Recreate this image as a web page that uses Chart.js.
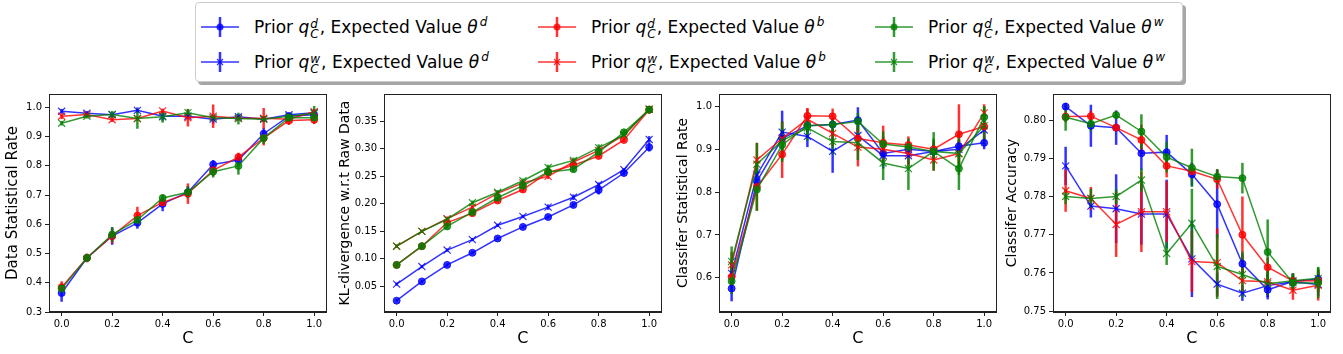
<!DOCTYPE html>
<html><head><meta charset="utf-8">
<script src="https://cdn.jsdelivr.net/npm/chart.js@4.4.0/dist/chart.umd.min.js"></script>
<style>
html,body{margin:0;padding:0;background:#fff;width:1343px;height:354px;overflow:hidden;font-family:'DejaVu Sans',sans-serif;}
canvas{position:absolute;top:85px;}
#legend{position:absolute;left:195px;top:2px;width:988px;height:80px;box-sizing:border-box;border:1px solid #ccc;border-radius:4px;background:#fff;box-shadow:3px 3px 0 rgba(0,0,0,0.35);}
.entry{position:absolute;height:30px;display:flex;align-items:center;font-size:17px;color:#000;white-space:nowrap;}
.entry svg{margin-right:15px;flex:none}
.mi{font-style:italic}
.ss{display:inline-flex;flex-direction:column;font-size:12px;line-height:10px;font-style:italic;vertical-align:middle;margin-left:1px;margin-right:1px;position:relative;top:1px}
.sp{font-size:12px;font-style:italic;position:relative;top:-7px;margin-left:2px}
</style></head>
<body>
<div id="legend"></div>
<canvas id="c1" width="329" height="269" style="left:4px"></canvas>
<canvas id="c2" width="331" height="269" style="left:337px"></canvas>
<canvas id="c3" width="328" height="269" style="left:675px"></canvas>
<canvas id="c4" width="333" height="269" style="left:1004px"></canvas>
<script>
// ---------- data ----------
const cValues = [0.0,0.1,0.2,0.3,0.4,0.5,0.6,0.7,0.8,0.9,1.0];
const xTickLabels = ['0.0','0.2','0.4','0.6','0.8','1.0'];

// series order: [prior q^d / theta^d, prior q^w / theta^d, q^d / theta^b, q^w / theta^b, q^d / theta^w, q^w / theta^w]
const seriesNames = [
  ['d','d'], ['w','d'], ['d','b'], ['w','b'], ['d','w'], ['w','w']
];
const seriesColors = ['0,0,255','0,0,255','255,0,0','255,0,0','0,128,0','0,128,0'];
const seriesMarkers = ['o','x','o','x','o','x'];

// Panel 1: Data Statistical Rate
const dsrTickLabels = ['0.3','0.4','0.5','0.6','0.7','0.8','0.9','1.0'];
const dsr_qd_td = [0.365,0.485,0.560,0.605,0.670,0.710,0.805,0.820,0.910,0.970,0.975];
const dsr_qd_td_err = [0.030,0.010,0.030,0.020,0.025,0.020,0.015,0.020,0.020,0.010,0.010];
const dsr_qw_td = [0.987,0.980,0.975,0.990,0.970,0.970,0.960,0.968,0.960,0.975,0.982];
const dsr_qw_td_err = [0.008,0.008,0.008,0.010,0.015,0.010,0.015,0.010,0.010,0.008,0.010];
const dsr_qd_tb = [0.385,0.485,0.560,0.630,0.675,0.705,0.785,0.830,0.895,0.955,0.958];
const dsr_qd_tb_err = [0.020,0.015,0.025,0.030,0.015,0.035,0.020,0.015,0.025,0.015,0.015];
const dsr_qw_tb = [0.970,0.976,0.958,0.962,0.988,0.965,0.970,0.963,0.963,0.960,0.985];
const dsr_qw_tb_err = [0.010,0.008,0.008,0.008,0.008,0.030,0.040,0.008,0.035,0.010,0.010];
const dsr_qd_tw = [0.380,0.485,0.565,0.615,0.690,0.710,0.780,0.800,0.895,0.965,0.965];
const dsr_qd_tw_err = [0.015,0.012,0.025,0.020,0.012,0.020,0.020,0.030,0.020,0.010,0.010];
const dsr_qw_tw = [0.946,0.970,0.976,0.962,0.968,0.982,0.965,0.962,0.960,0.970,0.980];
const dsr_qw_tw_err = [0.008,0.008,0.012,0.035,0.020,0.012,0.010,0.020,0.010,0.010,0.025];

// Panel 2: KL-divergence w.r.t Raw Data
const klTickLabels = ['0.05','0.10','0.15','0.20','0.25','0.30','0.35'];
const kl_qd_td = [0.024,0.059,0.089,0.111,0.137,0.158,0.176,0.198,0.225,0.256,0.303];
const kl_qd_td_err = [0.003,0.003,0.003,0.003,0.003,0.003,0.003,0.004,0.008,0.004,0.008];
const kl_qw_td = [0.054,0.086,0.116,0.135,0.161,0.177,0.194,0.212,0.235,0.262,0.317];
const kl_qw_td_err = [0.003,0.003,0.003,0.003,0.003,0.003,0.005,0.005,0.004,0.003,0.006];
const kl_qd_tb = [0.089,0.123,0.166,0.183,0.206,0.226,0.257,0.270,0.287,0.316,0.371];
const kl_qd_tb_err = [0.003,0.003,0.004,0.004,0.004,0.004,0.005,0.005,0.004,0.004,0.007];
const kl_qw_tb = [0.123,0.150,0.173,0.194,0.219,0.238,0.250,0.276,0.297,0.325,0.372];
const kl_qw_tb_err = [0.003,0.003,0.004,0.004,0.004,0.004,0.005,0.005,0.005,0.004,0.006];
const kl_qd_tw = [0.089,0.123,0.159,0.185,0.211,0.233,0.258,0.263,0.294,0.330,0.371];
const kl_qd_tw_err = [0.003,0.003,0.004,0.004,0.004,0.005,0.005,0.005,0.005,0.004,0.006];
const kl_qw_tw = [0.123,0.150,0.172,0.202,0.221,0.242,0.266,0.279,0.302,0.325,0.372];
const kl_qw_tw_err = [0.003,0.003,0.004,0.004,0.004,0.004,0.005,0.005,0.006,0.004,0.006];

// Panel 3: Classifer Statistical Rate
const csrTickLabels = ['0.6','0.7','0.8','0.9','1.0'];
const csr_qd_td = [0.575,0.825,0.925,0.955,0.958,0.968,0.890,0.900,0.895,0.907,0.915];
const csr_qd_td_err = [0.030,0.020,0.020,0.015,0.015,0.030,0.015,0.012,0.015,0.015,0.015];
const csr_qw_td = [0.610,0.840,0.940,0.930,0.895,0.932,0.885,0.885,0.895,0.900,0.945];
const csr_qw_td_err = [0.030,0.030,0.050,0.025,0.050,0.030,0.030,0.020,0.020,0.020,0.020];
const csr_qd_tb = [0.602,0.812,0.888,0.978,0.977,0.925,0.915,0.910,0.900,0.935,0.953];
const csr_qd_tb_err = [0.030,0.055,0.055,0.018,0.018,0.030,0.040,0.020,0.020,0.070,0.030];
const csr_qw_tb = [0.630,0.875,0.925,0.970,0.937,0.905,0.900,0.890,0.875,0.890,0.985];
const csr_qw_tb_err = [0.030,0.040,0.040,0.025,0.030,0.045,0.030,0.030,0.025,0.030,0.020];
const csr_qd_tw = [0.592,0.806,0.910,0.955,0.958,0.965,0.912,0.905,0.895,0.855,0.975];
const csr_qd_tw_err = [0.030,0.050,0.040,0.020,0.015,0.020,0.030,0.020,0.030,0.050,0.025];
const csr_qw_tw = [0.638,0.865,0.920,0.950,0.918,0.915,0.868,0.855,0.895,0.890,0.955];
const csr_qw_tw_err = [0.035,0.050,0.045,0.030,0.030,0.040,0.040,0.050,0.045,0.050,0.045];

// Panel 4: Classifer Accuracy
const caTickLabels = ['0.75','0.76','0.77','0.78','0.79','0.80'];
const ca_qd_td = [0.8035,0.7985,0.7980,0.7913,0.7916,0.7858,0.7780,0.7624,0.7556,0.7578,0.7584];
const ca_qd_td_err = [0.0010,0.0055,0.0045,0.0045,0.0045,0.0030,0.0090,0.0025,0.0025,0.0020,0.0020];
const ca_qw_td = [0.7880,0.7775,0.7768,0.7754,0.7754,0.7637,0.7571,0.7547,0.7567,0.7577,0.7570];
const ca_qw_td_err = [0.0050,0.0030,0.0090,0.0080,0.0090,0.0100,0.0030,0.0020,0.0030,0.0020,0.0030];
const ca_qd_tb = [0.8009,0.8010,0.7980,0.7948,0.7880,0.7866,0.7845,0.7700,0.7615,0.7579,0.7580];
const ca_qd_tb_err = [0.0015,0.0015,0.0010,0.0040,0.0030,0.0020,0.0025,0.0100,0.0025,0.0020,0.0030];
const ca_qw_tb = [0.7815,0.7795,0.7727,0.7760,0.7760,0.7630,0.7627,0.7580,0.7577,0.7555,0.7568];
const ca_qw_tb_err = [0.0055,0.0030,0.0085,0.0105,0.0080,0.0080,0.0090,0.0030,0.0030,0.0025,0.0040];
const ca_qd_tw = [0.8007,0.7990,0.8013,0.7970,0.7903,0.7875,0.7852,0.7848,0.7655,0.7574,0.7574];
const ca_qd_tw_err = [0.0035,0.0020,0.0010,0.0045,0.0040,0.0050,0.0020,0.0040,0.0085,0.0020,0.0040];
const ca_qw_tw = [0.7800,0.7795,0.7800,0.7843,0.7651,0.7730,0.7617,0.7596,0.7572,0.7580,0.7586];
const ca_qw_tw_err = [0.0020,0.0025,0.0020,0.0030,0.0030,0.0090,0.0085,0.0060,0.0030,0.0020,0.0030];

// ---------- rendering ----------
const INK = '#222';
const rgba = (c,a) => `rgba(${c},${a})`;

const errorBarPlugin = {
  id: 'errorBars',
  beforeDatasetsDraw(chart) {
    const ctx = chart.ctx, ys = chart.scales.y;
    ctx.save();
    chart.data.datasets.forEach((ds, i) => {
      const meta = chart.getDatasetMeta(i);
      ctx.strokeStyle = ds.errColor;
      ctx.lineWidth = 2.5;
      ds.data.forEach((pt, j) => {
        const px = meta.data[j].x;
        const e = ds.err[j];
        ctx.beginPath();
        ctx.moveTo(px, ys.getPixelForValue(pt.y - e));
        ctx.lineTo(px, ys.getPixelForValue(pt.y + e));
        ctx.stroke();
      });
    });
    ctx.restore();
  }
};
const framePlugin = {
  id: 'frame',
  afterDatasetsDraw(chart) {
    const a = chart.chartArea, ctx = chart.ctx;
    ctx.save();
    ctx.strokeStyle = INK; ctx.lineWidth = 1;
    ctx.strokeRect(Math.round(a.left)+0.5, Math.round(a.top)+0.5, Math.round(a.right-a.left)-1, Math.round(a.bottom-a.top)-1);
    ctx.restore();
  }
};

function tickLabelScale(labels) {
  return {
    afterBuildTicks: s => { s.ticks = labels.map(l => ({value: parseFloat(l)})); },
    callback: v => { const l = labels.find(t => Math.abs(parseFloat(t) - v) < 1e-9); return l === undefined ? '' : l; }
  };
}

function makePanel(id, title, titleSize, yAxisW, yMin, yMax, yTicks, values, errors) {
  const xt = tickLabelScale(xTickLabels), yt = tickLabelScale(yTicks);
  const datasets = values.map((vals, i) => {
    const c = seriesColors[i], isO = seriesMarkers[i] === 'o';
    return {
      data: cValues.map((x, j) => ({x: x, y: vals[j]})),
      err: errors[i],
      errColor: rgba(c, 0.8),
      borderColor: rgba(c, 0.8),
      backgroundColor: rgba(c, 0.8),
      borderWidth: 1.5,
      pointStyle: isO ? 'circle' : 'crossRot',
      pointRadius: isO ? 3.5 : 5,
      pointBorderWidth: isO ? 1 : 1.2,
      pointBackgroundColor: rgba(c, 0.8),
      pointBorderColor: rgba(c, 0.8),
      fill: false, tension: 0,
      order: 6 - i
    };
  });
  new Chart(document.getElementById(id), {
    type: 'line',
    data: {datasets},
    options: {
      responsive: false, animation: false, devicePixelRatio: 1,
      layout: {padding: {top: 8, right: 5, left: 0, bottom: 0}},
      plugins: {legend: {display: false}, tooltip: {enabled: false}},
      scales: {
        x: {
          type: 'linear', min: -0.05, max: 1.05,
          afterBuildTicks: xt.afterBuildTicks,
          afterFit: s => { s.height = 42; },
          grid: {display: true, drawOnChartArea: false, drawTicks: true, tickLength: 4, color: INK},
          border: {display: true, color: INK, width: 1},
          ticks: {callback: xt.callback, color: '#000', font: {family: 'DejaVu Sans', size: 10}, padding: 2, maxRotation: 0, autoSkip: false},
          title: {display: true, text: 'C', color: '#000', font: {family: 'DejaVu Sans', size: 16}, padding: {top: 0, bottom: 6}}
        },
        y: {
          type: 'linear', min: yMin, max: yMax,
          afterBuildTicks: yt.afterBuildTicks,
          afterFit: s => { s.width = yAxisW; },
          grid: {display: true, drawOnChartArea: false, drawTicks: true, tickLength: 4, color: INK},
          border: {display: true, color: INK, width: 1},
          ticks: {callback: yt.callback, color: '#000', font: {family: 'DejaVu Sans', size: 10}, padding: 3, autoSkip: false},
          title: {display: true, text: title, color: '#000', font: {family: 'DejaVu Sans', size: titleSize}, padding: {top: 0, bottom: 0}}
        }
      }
    },
    plugins: [errorBarPlugin, framePlugin]
  });
}

makePanel('c1', 'Data Statistical Rate', 15, 45, 0.3, 1.046, dsrTickLabels,
  [dsr_qd_td, dsr_qw_td, dsr_qd_tb, dsr_qw_tb, dsr_qd_tw, dsr_qw_tw],
  [dsr_qd_td_err, dsr_qw_td_err, dsr_qd_tb_err, dsr_qw_tb_err, dsr_qd_tw_err, dsr_qw_tw_err]);
makePanel('c2', 'KL-divergence w.r.t Raw Data', 14, 47, 0.0034, 0.3996, klTickLabels,
  [kl_qd_td, kl_qw_td, kl_qd_tb, kl_qw_tb, kl_qd_tw, kl_qw_tw],
  [kl_qd_td_err, kl_qw_td_err, kl_qd_tb_err, kl_qw_tb_err, kl_qd_tw_err, kl_qw_tw_err]);
makePanel('c3', 'Classifer Statistical Rate', 14, 44, 0.520, 1.029, csrTickLabels,
  [csr_qd_td, csr_qw_td, csr_qd_tb, csr_qw_tb, csr_qd_tw, csr_qw_tw],
  [csr_qd_td_err, csr_qw_td_err, csr_qd_tb_err, csr_qw_tb_err, csr_qd_tw_err, csr_qw_tw_err]);
makePanel('c4', 'Classifer Accuracy', 14, 49, 0.7498, 0.8068, caTickLabels,
  [ca_qd_td, ca_qw_td, ca_qd_tb, ca_qw_tb, ca_qd_tw, ca_qw_tw],
  [ca_qd_td_err, ca_qw_td_err, ca_qd_tb_err, ca_qw_tb_err, ca_qd_tw_err, ca_qw_tw_err]);

// ---------- legend ----------
(function buildLegend() {
  const lg = document.getElementById('legend');
  const colLeft = [5, 342, 679];
  const rowTop = [9, 44];
  seriesNames.forEach((nm, i) => {
    const col = Math.floor(i / 2), row = i % 2;
    const c = rgba(seriesColors[i], 0.8);
    const marker = seriesMarkers[i] === 'o'
      ? `<circle cx="19" cy="15" r="3.5" fill="${c}"/>`
      : `<path d="M16 12 L22 18 M22 12 L16 18" stroke="${c}" stroke-width="1.2"/>`;
    const svg = `<svg width="38" height="30"><line x1="0" y1="15" x2="38" y2="15" stroke="${c}" stroke-width="1.5"/>` +
      `<line x1="19" y1="5" x2="19" y2="25" stroke="${c}" stroke-width="2.5"/>${marker}</svg>`;
    const d = document.createElement('div');
    d.className = 'entry';
    d.style.left = colLeft[col] + 'px';
    d.style.top = rowTop[row] + 'px';
    d.innerHTML = svg + `<span>Prior <span class="mi">q</span><span class="ss"><span>${nm[0]}</span><span>C</span></span>, Expected Value <span class="mi">θ</span><span class="sp">${nm[1]}</span></span>`;
    lg.appendChild(d);
  });
})();
</script>
</body></html>
